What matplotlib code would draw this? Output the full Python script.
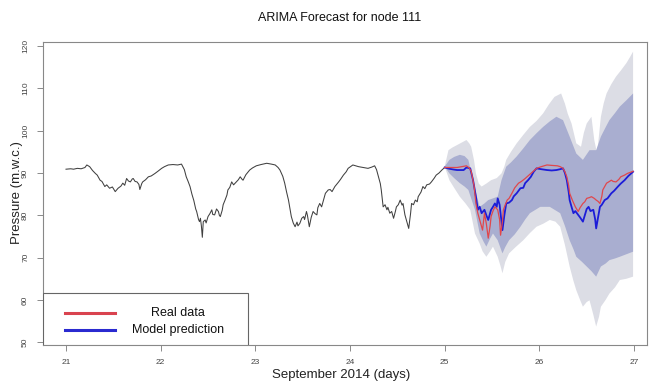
import numpy as np
import matplotlib
matplotlib.use("Agg")
import matplotlib.pyplot as plt
from matplotlib.patches import Rectangle
from matplotlib.lines import Line2D

plt.rcParams['font.family'] = ['Liberation Sans', 'DejaVu Sans']

title = "ARIMA Forecast for node 111"
xlabel = "September 2014 (days)"
ylabel = "Pressure (m.w.c.)"
x_ticks = [21, 22, 23, 24, 25, 26, 27]
y_ticks = [50, 60, 70, 80, 90, 100, 110, 120]
legend_labels = ["Real data", "Model prediction"]

# observed history (day, pressure)
hist_days = [21.00, 21.05, 21.08, 21.12, 21.16, 21.20, 21.22, 21.25, 21.28, 21.31, 21.33, 21.36, 21.38, 21.41,
             21.43, 21.46, 21.49, 21.52, 21.55, 21.58, 21.60, 21.62, 21.64, 21.66, 21.68, 21.70, 21.71, 21.73,
             21.75, 21.77, 21.78, 21.80, 21.81, 21.84, 21.87, 21.90, 21.94, 21.97, 22.01, 22.04, 22.08, 22.13,
             22.18, 22.22, 22.25, 22.27, 22.29, 22.31, 22.33, 22.35, 22.37, 22.38, 22.40, 22.41, 22.42, 22.43,
             22.44, 22.45, 22.47, 22.48, 22.50, 22.52, 22.54, 22.55, 22.57, 22.59, 22.61, 22.62, 22.63, 22.65,
             22.66, 22.68, 22.70, 22.71, 22.73, 22.75, 22.77, 22.80, 22.82, 22.84, 22.86, 22.87, 22.90, 22.94,
             22.97, 23.01, 23.06, 23.12, 23.17, 23.21, 23.24, 23.26, 23.29, 23.31, 23.33, 23.35, 23.37, 23.38,
             23.40, 23.42, 23.44, 23.45, 23.47, 23.49, 23.51, 23.52, 23.54, 23.55, 23.57, 23.59, 23.61, 23.63,
             23.65, 23.66, 23.68, 23.70, 23.72, 23.74, 23.77, 23.79, 23.81, 23.84, 23.88, 23.90, 23.93, 23.96,
             23.98, 24.03, 24.09, 24.14, 24.19, 24.23, 24.26, 24.28, 24.30, 24.32, 24.33, 24.34, 24.35, 24.37,
             24.39, 24.40, 24.42, 24.44, 24.46, 24.48, 24.49, 24.51, 24.53, 24.55, 24.56, 24.58, 24.60, 24.62,
             24.64, 24.65, 24.67, 24.69, 24.71, 24.72, 24.75, 24.77, 24.79, 24.81, 24.84, 24.86, 24.89, 24.91,
             24.94, 24.97, 25.00]
hist_vals = [90.9, 91.0, 90.9, 91.1, 91.0, 91.3, 91.9, 91.5, 90.6, 89.9, 89.5, 88.3, 88.0, 86.8,
             87.2, 86.4, 86.7, 85.6, 86.4, 86.9, 87.6, 87.1, 88.7, 88.1, 87.9, 88.6, 88.7, 88.0,
             87.9, 87.3, 86.1, 87.5, 87.9, 88.4, 89.1, 89.3, 89.9, 90.4, 91.1, 91.5, 91.9, 92.0,
             91.9, 92.1, 90.8, 89.1, 88.0, 86.8, 85.0, 83.5, 81.5, 80.9, 79.0, 78.5, 79.3, 77.5,
             74.8, 78.5, 78.9, 78.2, 79.7, 80.4, 81.3, 80.2, 80.1, 81.5, 80.9, 80.0, 79.7, 81.2,
             82.5, 83.6, 84.8, 86.0, 86.6, 87.9, 87.2, 87.9, 88.4, 89.1, 88.5, 88.3, 89.6, 90.7,
             91.2, 91.7, 92.0, 92.3, 92.1, 91.9, 91.3, 90.7, 89.2, 87.6, 85.5, 83.6, 81.0, 79.7,
             78.2, 77.3, 78.4, 77.5, 78.1, 79.3, 79.7, 79.0, 80.9, 80.0, 77.3, 79.5, 80.9, 80.4,
             80.1, 81.8, 82.8, 82.0, 83.6, 85.2, 86.0, 86.1, 85.6, 86.8, 87.9, 88.5, 89.5, 90.3,
             91.1, 91.9, 91.5, 91.3, 91.1, 91.4, 91.7, 90.8, 89.1, 87.5, 86.0, 84.0, 82.0, 82.5,
             81.3, 81.9, 80.5, 80.9, 79.3, 81.0, 82.0, 82.5, 83.6, 82.4, 82.8, 80.1, 78.5, 76.9,
             80.5, 82.8, 82.5, 83.6, 83.2, 84.4, 85.5, 86.8, 86.3, 87.2, 87.4, 87.9, 88.8, 89.5,
             90.0, 90.7, 91.3]

# model prediction
pred_days = [25.00, 25.05, 25.10, 25.13, 25.20, 25.23, 25.27, 25.30, 25.33, 25.35, 25.37, 25.39, 25.42, 25.44,
             25.46, 25.48, 25.49, 25.51, 25.53, 25.55, 25.56, 25.58, 25.59, 25.61, 25.63, 25.65, 25.68, 25.71,
             25.73, 25.76, 25.78, 25.80, 25.83, 25.85, 25.88, 25.91, 25.94, 25.97, 26.02, 26.08, 26.13, 26.18,
             26.22, 26.25, 26.27, 26.29, 26.31, 26.32, 26.34, 26.36, 26.38, 26.41, 26.43, 26.46, 26.48, 26.50,
             26.52, 26.54, 26.57, 26.59, 26.60, 26.62, 26.64, 26.66, 26.69, 26.72, 26.76, 26.79, 26.83, 26.86,
             26.90, 26.94, 26.99]
pred_vals = [91.3, 91.0, 90.8, 90.7, 90.7, 91.3, 91.1, 88.3, 84.4, 81.3, 82.0, 80.5, 81.3, 80.0,
             78.9, 80.5, 81.3, 82.0, 82.8, 82.0, 84.0, 82.5, 80.5, 76.5, 80.0, 82.8, 83.0, 83.6,
             84.5, 85.2, 85.8, 86.4, 86.5, 87.6, 88.3, 89.1, 90.3, 91.1, 90.9, 90.7, 90.6, 90.7,
             90.9, 91.1, 90.0, 88.3, 85.5, 83.6, 82.0, 80.5, 81.0, 80.1, 79.5, 78.5, 80.0, 81.5,
             82.0, 81.0, 81.3, 79.0, 76.9, 79.5, 82.0, 82.5, 83.6, 84.0, 85.2, 85.8, 86.8, 87.5,
             88.3, 89.3, 90.3]

# real data over forecast horizon
real_days = [25.00, 25.05, 25.13, 25.18, 25.23, 25.26, 25.28, 25.31, 25.33, 25.35, 25.37, 25.40, 25.42, 25.44,
             25.46, 25.48, 25.49, 25.51, 25.53, 25.56, 25.58, 25.59, 25.61, 25.62, 25.64, 25.66, 25.68, 25.71,
             25.74, 25.78, 25.81, 25.85, 25.88, 25.91, 25.94, 25.97, 26.02, 26.08, 26.13, 26.19, 26.22, 26.25,
             26.27, 26.29, 26.31, 26.32, 26.35, 26.38, 26.41, 26.43, 26.46, 26.48, 26.50, 26.53, 26.55, 26.58,
             26.60, 26.62, 26.64, 26.66, 26.67, 26.69, 26.71, 26.74, 26.76, 26.78, 26.81, 26.84, 26.86, 26.90,
             26.93, 26.99]
real_vals = [91.3, 91.3, 91.3, 91.5, 91.7, 91.2, 90.4, 87.0, 82.8, 80.5, 78.9, 76.5, 80.5, 78.0,
             74.6, 77.5, 79.7, 81.0, 82.0, 81.3, 79.0, 75.3, 78.5, 81.3, 82.5, 83.6, 84.0, 85.2,
             86.5, 87.6, 88.0, 88.7, 89.3, 89.9, 90.5, 91.1, 91.5, 91.9, 91.8, 91.7, 91.5, 91.1,
             90.3, 89.1, 87.0, 85.2, 83.5, 82.0, 80.9, 81.8, 82.8, 83.2, 84.0, 84.2, 84.4, 84.0,
             83.6, 83.3, 82.8, 84.5, 86.0, 86.8, 87.6, 88.0, 88.3, 88.0, 87.9, 88.5, 89.1, 89.5,
             89.9, 90.4]

# 95% interval (outer)
hi95_days = [25.00, 25.04, 25.08, 25.13, 25.18, 25.23, 25.26, 25.28, 25.31, 25.33, 25.36, 25.39, 25.44, 25.49,
             25.55, 25.60, 25.63, 25.65, 25.70, 25.76, 25.83, 25.90, 25.97, 26.04, 26.10, 26.16, 26.23, 26.27,
             26.30, 26.34, 26.39, 26.44, 26.47, 26.50, 26.55, 26.58, 26.61, 26.65, 26.68, 26.71, 26.76, 26.81,
             26.86, 26.92, 26.96, 26.99]
hi95_vals = [91.5, 95.4, 96.0, 96.6, 97.2, 97.8, 97.0, 96.2, 93.0, 89.9, 87.5, 86.8, 87.5, 88.3,
             88.8, 89.9, 91.5, 93.1, 95.0, 97.0, 99.0, 100.9, 102.3, 104.1, 106.2, 108.0, 108.8, 106.4,
             104.0, 101.7, 97.0, 96.2, 99.5, 101.7, 103.3, 97.8, 94.6, 103.3, 106.5, 108.8, 111.0, 112.8,
             114.2, 116.0, 117.5, 118.7]
lo95_days = [25.00, 25.05, 25.10, 25.16, 25.22, 25.27, 25.32, 25.37, 25.40, 25.44, 25.48, 25.51, 25.56, 25.59,
             25.61, 25.64, 25.68, 25.75, 25.83, 25.90, 25.97, 26.04, 26.11, 26.17, 26.22, 26.27, 26.32, 26.36,
             26.39, 26.43, 26.46, 26.50, 26.53, 26.57, 26.60, 26.63, 26.65, 26.70, 26.74, 26.80, 26.85, 26.92,
             26.99]
lo95_vals = [91.5, 88.3, 86.5, 84.4, 82.8, 81.3, 75.7, 73.3, 71.5, 70.2, 71.5, 72.6, 70.2, 68.0,
             66.3, 69.0, 71.0, 72.5, 74.1, 75.8, 77.3, 78.0, 78.9, 78.5, 77.3, 73.0, 67.9, 64.5,
             62.3, 60.0, 58.4, 59.5, 59.9, 56.5, 53.7, 56.0, 58.4, 60.0, 61.5, 63.0, 64.7, 65.0,
             65.5]

# 80% interval (inner)
hi80_days = [25.00, 25.05, 25.10, 25.16, 25.21, 25.25, 25.30, 25.34, 25.37, 25.42, 25.46, 25.51, 25.56, 25.60,
             25.65, 25.70, 25.76, 25.83, 25.90, 25.97, 26.04, 26.11, 26.18, 26.25, 26.32, 26.39, 26.46, 26.53,
             26.60, 26.65, 26.70, 26.74, 26.80, 26.85, 26.92, 26.99]
hi80_vals = [91.5, 93.1, 93.8, 94.3, 94.0, 93.1, 88.3, 84.5, 82.0, 82.8, 83.6, 84.0, 84.4, 88.3,
             91.5, 92.5, 93.9, 95.8, 97.8, 99.4, 100.9, 102.2, 103.3, 102.5, 98.6, 94.6, 93.1, 95.4,
             95.4, 98.6, 100.8, 102.5, 104.2, 105.7, 107.2, 108.8]
lo80_days = [25.00, 25.05, 25.10, 25.16, 25.21, 25.25, 25.32, 25.37, 25.41, 25.44, 25.48, 25.51, 25.56, 25.61,
             25.64, 25.68, 25.74, 25.80, 25.85, 25.90, 26.01, 26.11, 26.22, 26.27, 26.32, 26.36, 26.39, 26.45,
             26.50, 26.55, 26.60, 26.65, 26.70, 26.74, 26.80, 26.85, 26.92, 26.99]
lo80_vals = [91.5, 89.9, 88.8, 87.6, 86.8, 86.0, 81.3, 75.7, 73.8, 72.6, 74.5, 75.7, 74.1, 71.0,
             72.5, 74.1, 75.5, 77.3, 79.0, 80.5, 82.0, 82.0, 80.5, 77.5, 74.1, 72.0, 70.2, 69.0,
             67.9, 66.8, 65.5, 67.9, 68.6, 69.4, 69.8, 70.2, 70.8, 71.4]

fig = plt.figure(figsize=(6.52, 3.85), dpi=100)
ax = fig.add_axes([43 / 652, 1 - 345 / 385, (647 - 43) / 652, (345 - 42) / 385])

ax.fill(np.r_[hi95_days, lo95_days[::-1]], np.r_[hi95_vals, lo95_vals[::-1]],
        color='#dcdde5', lw=0, zorder=1)
ax.fill(np.r_[hi80_days, lo80_days[::-1]], np.r_[hi80_vals, lo80_vals[::-1]],
        color='#a9aed0', lw=0, zorder=2)
ax.plot(hist_days, hist_vals, color='#404040', lw=0.75, zorder=3)
ax.plot(pred_days, pred_vals, color='#1c1cd8', lw=1.3, zorder=4)
ax.plot(real_days, real_vals, color='#e0474c', lw=0.9, zorder=5)

ax.set_xlim(20.757, 27.137)
ax.set_ylim(49.34, 120.97)
ax.set_xticks(x_ticks)
ax.set_xticklabels([str(t) for t in x_ticks], fontsize=6, color='#444444')
ax.set_yticks(y_ticks)
ax.set_yticklabels([str(t) for t in y_ticks], fontsize=6, color='#444444',
                   rotation=90, va='center')
ax.tick_params(direction='out', length=4, width=0.6, color='#777777', pad=6)
for s in ax.spines.values():
    s.set_color('#888888')
    s.set_linewidth(0.8)

fig.text(340 / 652, 1 - 18 / 385, title, ha='center', va='center', fontsize=9, color='#111111')
fig.text(341 / 652, 1 - 375 / 385, xlabel, ha='center', va='center', fontsize=9.5, color='#222222')
fig.text(17 / 652, 1 - 193 / 385, ylabel, ha='center', va='center', rotation=90,
         fontsize=9.5, color='#222222')

# legend box anchored at the lower-left corner of the axes
lw_ax = (248 - 43) / (647 - 43)
lh_ax = (345 - 293) / (345 - 42)
ax.add_patch(Rectangle((0, 0), lw_ax, lh_ax, transform=ax.transAxes, facecolor='white',
                       edgecolor='#666666', lw=0.8, zorder=10))
leg_colors = ['#d9434f', '#2a2ad0']
leg_y = [(345 - 313) / 303, (345 - 330) / 303]
for lab, c, yy in zip(legend_labels, leg_colors, leg_y):
    ax.add_line(Line2D([(65 - 43) / 604, (115 - 43) / 604], [yy, yy], transform=ax.transAxes,
                       color=c, lw=2.2, zorder=11))
    ax.text((178 - 43) / 604, yy, lab, transform=ax.transAxes, ha='center', va='center',
            fontsize=9, color='#111111', zorder=11)

fig.savefig('out.png', dpi=100)
